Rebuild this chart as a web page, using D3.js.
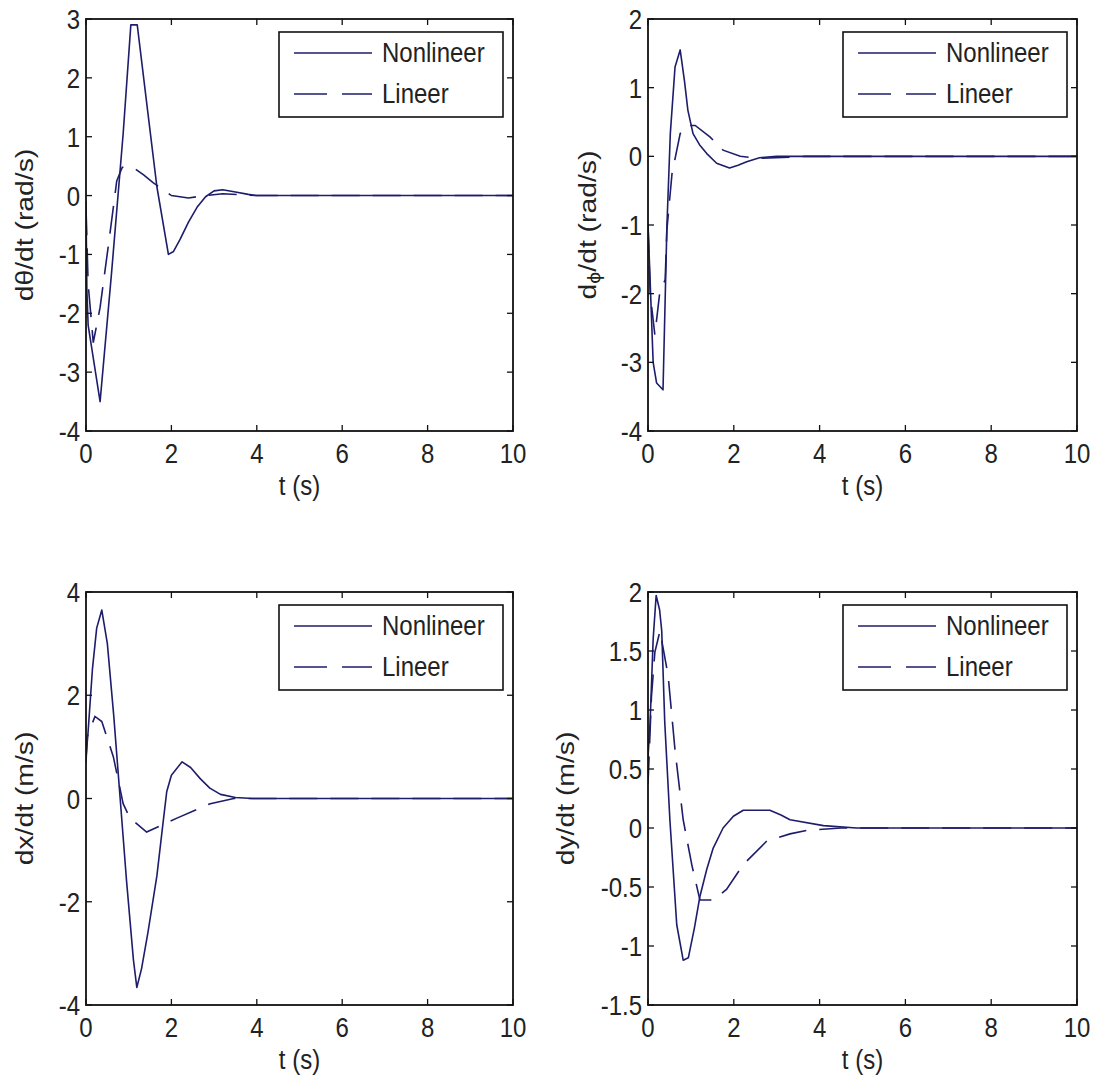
<!DOCTYPE html>
<html lang="en">
<head>
    <meta charset="UTF-8">
    <title>Nonlineer vs Lineer</title>
    <script src="https://d3js.org/d3.v7.min.js"></script>
    <style>
        body { margin: 0; background: #fff; }
        svg text { font-family: Arial, "Liberation Sans", sans-serif; fill: #222; }
    </style>
</head>
<body>
    <svg id="chart" width="1097" height="1086"></svg>
    <script>
        // x axis, same for all four panels
        const tDomain = [0, 10];
        const tTicks = [0, 2, 4, 6, 8, 10];
        const legendLabels = ["Nonlineer", "Lineer"];

        // dtheta/dt
        const thetaNonT = [0, 0.02, 0.05, 0.33, 0.6, 0.87, 1.05, 1.2, 1.45, 1.66, 1.93, 2.05, 2.2, 2.4, 2.6, 2.8, 3.0, 3.2, 3.5, 3.8, 4.0, 10];
        const thetaNonY = [-0.1, -1.6, -2.2, -3.5, -1.3, 1.05, 2.9, 2.9, 1.4, 0.15, -1.0, -0.95, -0.75, -0.45, -0.2, -0.02, 0.08, 0.1, 0.06, 0.02, 0, 0];
        const thetaLinT = [0, 0.05, 0.17, 0.33, 0.56, 0.72, 0.85, 1.1, 1.35, 1.57, 2.0, 2.4, 2.8, 3.2, 4.0, 10];
        const thetaLinY = [-0.2, -1.5, -2.5, -1.9, -0.65, 0.25, 0.48, 0.48, 0.35, 0.22, 0, -0.04, 0.0, 0.03, 0, 0];
        const thetaTicks = [-4, -3, -2, -1, 0, 1, 2, 3];

        // dphi/dt
        const phiNonT = [0, 0.12, 0.2, 0.35, 0.44, 0.52, 0.63, 0.75, 0.85, 0.93, 1.05, 1.2, 1.37, 1.6, 1.9, 2.1, 2.3, 2.6, 3.0, 10];
        const phiNonY = [-0.98, -3.0, -3.3, -3.4, -1.03, 0.33, 1.3, 1.55, 1.1, 0.67, 0.33, 0.17, 0.04, -0.1, -0.17, -0.13, -0.08, -0.02, 0, 0];
        const phiLinT = [0, 0.05, 0.16, 0.28, 0.4, 0.44, 0.56, 0.75, 0.9, 1.1, 1.45, 1.75, 2.15, 2.6, 3.7, 10];
        const phiLinY = [-1.0, -2.0, -2.6, -1.95, -1.8, -1.07, -0.25, 0.33, 0.45, 0.45, 0.28, 0.09, 0.0, -0.03, 0, 0];
        const phiTicks = [-4, -3, -2, -1, 0, 1, 2];

        // dx/dt
        const xNonT = [0, 0.05, 0.15, 0.25, 0.37, 0.5, 0.65, 0.8, 0.95, 1.11, 1.19, 1.3, 1.45, 1.66, 1.8, 1.89, 2.0, 2.25, 2.45, 2.68, 2.9, 3.15, 3.5, 3.9, 10];
        const xNonY = [0.8, 1.3, 2.5, 3.3, 3.65, 3.0, 1.6, 0, -1.6, -3.12, -3.66, -3.3, -2.6, -1.5, -0.5, 0.13, 0.45, 0.71, 0.6, 0.38, 0.2, 0.08, 0.02, 0, 0];
        const xLinT = [0, 0.03, 0.21, 0.37, 0.64, 0.87, 1.03, 1.42, 1.81, 2.13, 2.91, 3.46, 3.8, 10];
        const xLinY = [0.7, 1.2, 1.59, 1.49, 0.81, -0.1, -0.38, -0.65, -0.5, -0.38, -0.1, 0, 0, 0];
        const xTicks = [-4, -2, 0, 2, 4];

        // dy/dt
        const yNonT = [0, 0.05, 0.12, 0.19, 0.27, 0.32, 0.39, 0.51, 0.67, 0.82, 0.94, 1.08, 1.21, 1.37, 1.52, 1.75, 1.99, 2.22, 2.84, 3.1, 3.31, 4.09, 4.86, 10];
        const yNonY = [0.6, 0.9, 1.6, 1.97, 1.85, 1.67, 0.9, 0.07, -0.82, -1.12, -1.1, -0.85, -0.58, -0.35, -0.17, 0.0, 0.1, 0.15, 0.15, 0.11, 0.07, 0.02, 0, 0];
        const yLinT = [0, 0.08, 0.16, 0.28, 0.47, 0.63, 0.82, 1.02, 1.21, 1.52, 1.83, 2.22, 2.77, 3.31, 3.7, 4.5, 10];
        const yLinY = [0.37, 1.11, 1.49, 1.67, 1.29, 0.66, 0.07, -0.31, -0.61, -0.61, -0.52, -0.31, -0.11, -0.05, -0.02, 0, 0];
        const yTicks = [-1.5, -1, -0.5, 0, 0.5, 1, 1.5, 2];

        const lineColor = "#1d1d6b";
        const fontSize = 24;
        const stretch = "scale(1,1.18)";

        const panels = [
            { left: 86, right: 513, top: 19, bottom: 431, yDomain: [-4, 3], yTicks: thetaTicks,
              label: ["dθ/dt (rad/s)"], labelX: 25,
              non: [thetaNonT, thetaNonY], lin: [thetaLinT, thetaLinY] },
            { left: 648, right: 1077, top: 19, bottom: 431, yDomain: [-4, 2], yTicks: phiTicks,
              label: ["d", "ϕ", "/dt (rad/s)"], labelX: 588,
              non: [phiNonT, phiNonY], lin: [phiLinT, phiLinY] },
            { left: 86, right: 513, top: 592, bottom: 1005, yDomain: [-4, 4], yTicks: xTicks,
              label: ["dx/dt (m/s)"], labelX: 25,
              non: [xNonT, xNonY], lin: [xLinT, xLinY] },
            { left: 648, right: 1077, top: 592, bottom: 1005, yDomain: [-1.5, 2], yTicks: yTicks,
              label: ["dy/dt (m/s)"], labelX: 566,
              non: [yNonT, yNonY], lin: [yLinT, yLinY] }
        ];

        const svg = d3.select("#chart");

        function stretchedText(g, x, y, anchor, txt) {
            return g.append("text")
                .attr("transform", `translate(${x},${y}) ${stretch}`)
                .attr("text-anchor", anchor)
                .attr("font-size", fontSize)
                .text(txt);
        }

        panels.forEach((p, i) => {
            const x = d3.scaleLinear().domain(tDomain).range([p.left, p.right]);
            const y = d3.scaleLinear().domain(p.yDomain).range([p.bottom, p.top]);
            const g = svg.append("g");

            // clip
            const clipId = "clip" + i;
            svg.append("clipPath").attr("id", clipId)
                .append("rect").attr("x", p.left).attr("y", p.top)
                .attr("width", p.right - p.left).attr("height", p.bottom - p.top);

            const line = d3.line().x(d => x(d[0])).y(d => y(d[1]));
            const nonData = d3.zip(p.non[0], p.non[1]);
            const linData = d3.zip(p.lin[0], p.lin[1]);

            const lines = g.append("g").attr("clip-path", `url(#${clipId})`);
            lines.append("path").datum(nonData)
                .attr("fill", "none").attr("stroke", lineColor).attr("stroke-width", 1.6)
                .attr("stroke-linejoin", "round").attr("d", line);
            lines.append("path").datum(linData)
                .attr("fill", "none").attr("stroke", lineColor).attr("stroke-width", 1.6)
                .attr("stroke-dasharray", "28,13").attr("d", line);

            // box with inward ticks on all sides
            const tickLen = 6;
            tTicks.forEach(t => {
                g.append("line").attr("x1", x(t)).attr("x2", x(t))
                    .attr("y1", p.bottom).attr("y2", p.bottom - tickLen)
                    .attr("stroke", "#111").attr("stroke-width", 1.3);
                g.append("line").attr("x1", x(t)).attr("x2", x(t))
                    .attr("y1", p.top).attr("y2", p.top + tickLen)
                    .attr("stroke", "#111").attr("stroke-width", 1.3);
                stretchedText(g, x(t), p.bottom + 32, "middle", String(t));
            });
            p.yTicks.forEach(v => {
                g.append("line").attr("x1", p.left).attr("x2", p.left + tickLen)
                    .attr("y1", y(v)).attr("y2", y(v))
                    .attr("stroke", "#111").attr("stroke-width", 1.3);
                g.append("line").attr("x1", p.right).attr("x2", p.right - tickLen)
                    .attr("y1", y(v)).attr("y2", y(v))
                    .attr("stroke", "#111").attr("stroke-width", 1.3);
                stretchedText(g, p.left - 6, y(v) + 10, "end", String(v));
            });
            g.append("rect").attr("x", p.left).attr("y", p.top)
                .attr("width", p.right - p.left).attr("height", p.bottom - p.top)
                .attr("fill", "none").attr("stroke", "#111").attr("stroke-width", 1.8);

            // x label
            stretchedText(g, (p.left + p.right) / 2, p.bottom + 64, "middle", "t (s)");

            // y label (rotated)
            const cy = (p.top + p.bottom) / 2;
            const yl = g.append("text")
                .attr("transform", `translate(${p.labelX},${cy}) rotate(-90) scale(1.18,1)`)
                .attr("text-anchor", "middle")
                .attr("dy", "0.35em")
                .attr("font-size", fontSize);
            if (p.label.length === 1) {
                yl.text(p.label[0]);
            } else {
                yl.append("tspan").text(p.label[0]);
                yl.append("tspan").attr("font-size", 18).attr("dy", 4).text(p.label[1]);
                yl.append("tspan").attr("dy", -4).text(p.label[2]);
            }

            // legend
            const lx = p.right - 234, ly = p.top + 13;
            const lg = g.append("g");
            lg.append("rect").attr("x", lx).attr("y", ly).attr("width", 224).attr("height", 85)
                .attr("fill", "#fff").attr("stroke", "#111").attr("stroke-width", 1.6);
            legendLabels.forEach((name, k) => {
                const rowY = ly + 21 + k * 41;
                lg.append("line").attr("x1", lx + 15).attr("x2", lx + 93)
                    .attr("y1", rowY).attr("y2", rowY)
                    .attr("stroke", lineColor).attr("stroke-width", 1.6)
                    .attr("stroke-dasharray", k === 1 ? "33,15" : null);
                stretchedText(lg, lx + 103, rowY + 9, "start", name);
            });
        });
    </script>
</body>
</html>
